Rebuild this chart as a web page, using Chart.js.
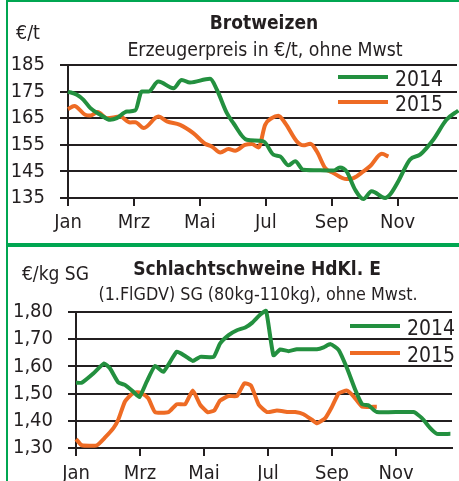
<html>
<head>
<script src="https://cdn.jsdelivr.net/npm/chart.js"></script>
<style>
  body { margin: 0; background: #fff; }
  #page { position: relative; width: 459px; height: 481px; overflow: hidden;
          font-family: 'DejaVu Sans Condensed', 'DejaVu Sans', sans-serif; font-stretch: condensed; color: #231f20; }
  .box { position: absolute; left: 0; width: 459px; }
  .txt { position: absolute; white-space: nowrap; line-height: 1; transform: translate(-50%, -50%); }
  .unit { position: absolute; white-space: nowrap; line-height: 1; transform: translateY(-50%); }
  .bar { position: absolute; background: #00a651; }
  .leg { position: absolute; white-space: nowrap; line-height: 1; font-size: 21px; transform: translateY(-50%); }
  .legline { position: absolute; height: 4px; width: 50px; }
</style>
</head>
<body>
<div id="page">
  <div class="box" style="top:0;height:240px"><canvas id="wheat" width="459" height="240"></canvas></div>
  <div class="box" style="top:247px;height:234px"><canvas id="pig" width="459" height="234"></canvas></div>

  <!-- green frame -->
  <div class="bar" style="left:6px;top:0;width:453px;height:2px"></div>
  <div class="bar" style="left:6px;top:0;width:2px;height:481px"></div>
  <div class="bar" style="left:6px;top:243px;width:453px;height:4px"></div>

  <!-- top chart texts -->
  <div class="unit" style="left:16px;top:33px;font-size:19.5px">€/t</div>
  <div class="txt" style="left:264px;top:22px;font-size:19px;font-weight:bold">Brotweizen</div>
  <div class="txt" style="left:265px;top:50px;font-size:19.3px">Erzeugerpreis in €/t, ohne Mwst</div>

  <!-- bottom chart texts -->
  <div class="unit" style="left:22px;top:273px;font-size:19px">€/kg SG</div>
  <div class="txt" style="left:257px;top:268px;font-size:19px;font-weight:bold">Schlachtschweine HdKl. E</div>
  <div class="txt" style="left:258px;top:294px;font-size:17.8px">(1.FlGDV) SG (80kg-110kg), ohne Mwst.</div>

  <div id="legWheat"></div>
  <div id="legPig"></div>
</div>

<script>
// x positions are in months from 1 January (0 = Jan, 2 = Mrz, ...)
const monthTicks = [0, 2, 4, 6, 8, 10]
const monthLabels = ['Jan', 'Mrz', 'Mai', 'Jul', 'Sep', 'Nov']
const seriesLabels = ['2014', '2015']

// Brotweizen, €/t
const wheatTicks = [135, 145, 155, 165, 175, 185]
const wheatMonths2014 = [0, 0.27, 0.47, 0.68, 0.98, 1.28, 1.48, 1.79, 2.04, 2.24, 2.44, 2.74, 3.2, 3.45, 3.7, 4.31, 4.52, 4.82, 5.02, 5.42, 5.93, 6.23, 6.44, 6.69, 6.89, 7.14, 7.65, 8.05, 8.25, 8.45, 8.71, 8.96, 9.21, 9.62, 9.77, 10.02, 10.37, 10.68, 11.08, 11.48, 11.84]
const wheatPrices2014 = [175, 173.8, 171.9, 168.8, 166.3, 164.4, 165, 167.5, 167.9, 175, 175, 178.8, 176.3, 179.4, 178.4, 179.8, 175.6, 166.9, 163.1, 156.9, 156.3, 151.3, 150.6, 147.3, 148.8, 145.6, 145.4, 145.3, 146.5, 145, 138.1, 134.6, 137.5, 135, 136.3, 141.3, 149.4, 151.3, 156.9, 164.4, 167.9]
const wheatMonths2015 = [0, 0.19, 0.52, 0.68, 0.9, 1.18, 1.58, 1.88, 2.04, 2.3, 2.74, 3.0, 3.4, 3.8, 4.16, 4.36, 4.62, 4.87, 5.07, 5.37, 5.58, 5.78, 5.98, 6.18, 6.38, 6.59, 6.94, 7.14, 7.35, 7.55, 7.8, 8.05, 8.45, 8.66, 8.96, 9.16, 9.52, 9.72]
const wheatPrices2015 = [168.4, 169.6, 166.3, 166, 167.3, 165, 165.6, 163.4, 163.5, 161.3, 165.6, 163.8, 162.5, 159.4, 155.4, 154.4, 152.1, 153.4, 152.8, 155, 155.3, 154, 162.5, 165, 165.9, 163.1, 156.3, 154.8, 155.4, 152.5, 146.3, 144.4, 142.1, 142.5, 145, 146.9, 151.6, 150.6]

// Schlachtschweine, €/kg SG
const pigTicks = [1.30, 1.40, 1.50, 1.60, 1.70, 1.80]
const pigMonths2014 = [0, 0.18, 0.54, 0.88, 1.06, 1.32, 1.53, 1.79, 1.98, 2.21, 2.47, 2.73, 3.15, 3.41, 3.65, 3.88, 4.30, 4.50, 4.77, 5.03, 5.29, 5.50, 5.76, 5.94, 6.17, 6.38, 6.64, 6.90, 7.53, 7.74, 7.95, 8.21, 8.47, 8.73, 8.94, 9.15, 9.40, 10.55, 10.81, 11.07, 11.28, 11.70]
const pigPrices2014 = [1.54, 1.54, 1.574, 1.611, 1.593, 1.541, 1.532, 1.507, 1.487, 1.544, 1.602, 1.58, 1.654, 1.638, 1.62, 1.635, 1.635, 1.684, 1.715, 1.733, 1.743, 1.76, 1.791, 1.804, 1.641, 1.662, 1.656, 1.663, 1.663, 1.67, 1.682, 1.66, 1.593, 1.513, 1.461, 1.456, 1.432, 1.432, 1.41, 1.373, 1.352, 1.352]
const pigMonths2015 = [0, 0.18, 0.65, 0.91, 1.17, 1.32, 1.53, 1.74, 1.90, 2.05, 2.26, 2.47, 2.89, 3.15, 3.41, 3.65, 3.88, 4.11, 4.32, 4.50, 4.77, 5.03, 5.26, 5.47, 5.71, 5.97, 6.28, 6.64, 6.85, 7.11, 7.37, 7.53, 7.79, 8.00, 8.21, 8.47, 8.68, 8.94, 9.40]
const pigPrices2015 = [1.333, 1.31, 1.31, 1.339, 1.373, 1.404, 1.471, 1.498, 1.505, 1.501, 1.483, 1.432, 1.432, 1.461, 1.461, 1.511, 1.459, 1.432, 1.438, 1.474, 1.491, 1.491, 1.538, 1.529, 1.459, 1.432, 1.438, 1.432, 1.432, 1.424, 1.404, 1.391, 1.41, 1.452, 1.501, 1.511, 1.489, 1.452, 1.452]

const green = '#23903f'
const orange = '#ee6b24'
const ink = '#231f20'
const fontFam = "'DejaVu Sans Condensed', 'DejaVu Sans', sans-serif"

const toPoints = (xs, ys) => xs.map((x, i) => ({x: x, y: ys[i]}))

// builds one of the two panels; geometry is the plot box inside the canvas
function makeChart(id, cfg) {
  const line = (label, data, color) => ({
    label: label, data: data, borderColor: color, backgroundColor: color,
    borderWidth: 4, pointRadius: 0, fill: false, clip: 5,
    tension: cfg.tension, cubicInterpolationMode: cfg.mode
  })
  return new Chart(document.getElementById(id), {
    type: 'line',
    data: { datasets: [
      line(seriesLabels[0], cfg.d2014, green),
      line(seriesLabels[1], cfg.d2015, orange)
    ]},
    options: {
      responsive: false,
      animation: false,
      layout: { padding: { top: cfg.top, left: 10, right: cfg.right, bottom: 0 } },
      plugins: { legend: { display: false }, tooltip: { enabled: false } },
      scales: {
        x: {
          type: 'linear', min: 0, max: cfg.xmax,
          afterBuildTicks: s => { s.ticks = monthTicks.map(v => ({value: v})) },
          afterFit: s => { s.height = cfg.h - cfg.bottom; s.paddingLeft = 0; s.paddingRight = 0 },
          ticks: { padding: cfg.xpad, color: ink, font: { family: fontFam, size: 20 }, autoSkip: false,
                   maxRotation: 0, callback: v => monthLabels[monthTicks.indexOf(v)] },
          grid: { drawOnChartArea: false, drawTicks: true, tickLength: 8, color: ink, lineWidth: 2 },
          border: { display: true, color: ink, width: 2 }
        },
        y: {
          min: cfg.ticks[0], max: cfg.ticks[cfg.ticks.length - 1],
          afterBuildTicks: s => { s.ticks = cfg.ticks.map(v => ({value: v})) },
          afterFit: s => { s.width = cfg.left - 10; s.paddingTop = 0; s.paddingBottom = 0 },
          ticks: { padding: 15, color: ink, font: { family: fontFam, size: 20 }, autoSkip: false, callback: cfg.fmt },
          grid: { drawTicks: true, tickLength: 8, color: ink, lineWidth: 2 },
          border: { display: true, color: ink, width: 2 }
        }
      }
    }
  })
}

makeChart('wheat', {
  d2014: toPoints(wheatMonths2014, wheatPrices2014),
  d2015: toPoints(wheatMonths2015, wheatPrices2015),
  ticks: wheatTicks, fmt: v => String(v),
  top: 65, bottom: 198, left: 68, right: 2, h: 240, xmax: 11.8, xpad: 5,
  tension: 0.4, mode: 'monotone'
})

makeChart('pig', {
  d2014: toPoints(pigMonths2014, pigPrices2014),
  d2015: toPoints(pigMonths2015, pigPrices2015),
  ticks: pigTicks, fmt: v => v.toFixed(2).replace('.', ','),
  top: 65, bottom: 201, left: 76, right: 7, h: 234, xmax: 11.75, xpad: 6,
  tension: 0.15, mode: 'default'
})

// legends (line sample + year), placed inside the plot areas at top right
function makeLegend(id, x, ys) {
  const el = document.getElementById(id)
  const colors = [green, orange]
  seriesLabels.forEach((lab, i) => {
    el.innerHTML += '<div class="legline" style="left:' + x + 'px;top:' + (ys[i] - 2) + 'px;background:' + colors[i] + '"></div>'
      + '<div class="leg" style="left:' + (x + 57) + 'px;top:' + (ys[i] + 2) + 'px">' + lab + '</div>'
  })
}
makeLegend('legWheat', 338, [77, 102])
makeLegend('legPig', 350, [326, 353])
</script>
</body>
</html>
